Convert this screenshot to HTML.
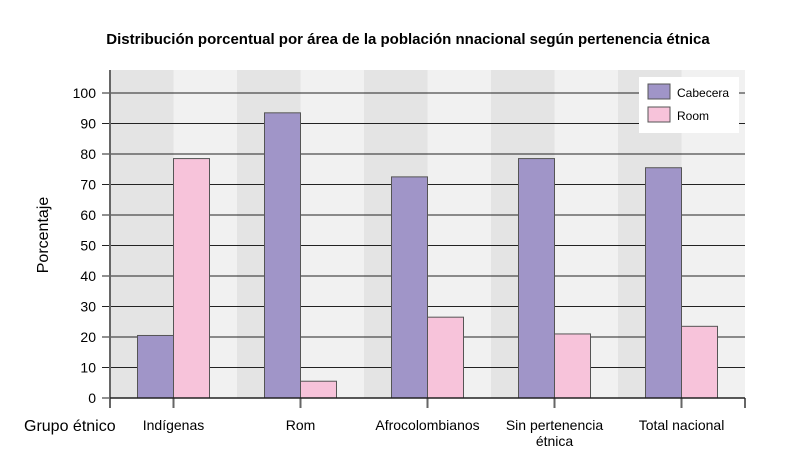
<!DOCTYPE html>
<html><head><meta charset="utf-8"><style>
body{margin:0;background:#fff;font-family:"Liberation Sans",Arial,sans-serif;}
svg text{font-family:"Liberation Sans",Arial,sans-serif;fill:#000;}
</style></head><body>
<svg id="c" width="800" height="460" xmlns="http://www.w3.org/2000/svg">
<text x="408" y="44" font-size="15" font-weight="bold" text-anchor="middle">Distribución porcentual por área de la población nnacional según pertenencia étnica</text>
<g id="bands"></g><g id="grid"></g><g id="bars"></g><g id="axes"></g>
<text transform="translate(48,235) rotate(-90)" font-size="16" text-anchor="middle">Porcentaje</text>
<text x="24" y="431" font-size="16">Grupo étnico</text>
<g>
<rect x="639" y="77" width="100" height="56" fill="#fff"/>
<rect x="648" y="84" width="22" height="15" fill="#a095c8" stroke="#555"/>
<text x="677" y="97" font-size="12">Cabecera</text>
<rect x="648" y="107" width="22" height="15" fill="#f7c3da" stroke="#555"/>
<text x="677" y="120" font-size="12">Room</text>
</g>
</svg>
<script>
const categories=["Indígenas","Rom","Afrocolombianos","Sin pertenencia|étnica","Total nacional"];
const cabecera=[20.5,93.5,72.5,78.5,75.5];
const room=[78.5,5.5,26.5,21,23.5];
const yTicks=[0,10,20,30,40,50,60,70,80,90,100];
const NS="http://www.w3.org/2000/svg";
const L=110,R=745,T=70,B=398;
const catW=(R-L)/categories.length;
const y=v=>B-v*3.05;
const xc=i=>L+catW*(i+0.5);
function mk(p,t,a){const e=document.createElementNS(NS,t);for(const k in a)e.setAttribute(k,a[k]);document.getElementById(p).appendChild(e);return e;}
for(let i=0;i<categories.length*2;i++){
 const r=mk('bands','rect',{x:L+i*catW/2,y:T,width:catW/2,height:B-T,fill:i%2?'#f1f1f1':'#e4e4e4'});
 
 
}
yTicks.forEach(v=>{
 const l=mk('grid','line',{x1:L-8,x2:R,y1:y(v),y2:y(v),stroke:'#222','stroke-width':1});
 
 
 const t=mk('axes','text',{x:L-14,y:y(v)+5,'font-size':14,'text-anchor':'end'});
 t.textContent=v;
 
 
});
const bw=36;
categories.forEach((c,i)=>{
 const a=mk('bars','rect',{x:xc(i)-bw,y:y(cabecera[i]),width:bw,height:B-y(cabecera[i]),fill:'#a095c8',stroke:'#555'});
 
 
 const b=mk('bars','rect',{x:xc(i),y:y(room[i]),width:bw,height:B-y(room[i]),fill:'#f7c3da',stroke:'#555'});
 
 
 const tk=mk('axes','line',{x1:xc(i),x2:xc(i),y1:B,y2:B+10,stroke:'#666','stroke-width':2});
 
 
 c.split('|').forEach((s,j)=>{
  const t=mk('axes','text',{x:xc(i),y:430+j*16,'font-size':14,'text-anchor':'middle'});
  t.textContent=s;
  
  
 });
});
[L,R].forEach(xx=>{const t=mk('axes','line',{x1:xx,x2:xx,y1:B,y2:B+10,stroke:'#666','stroke-width':2});
 
 });
const ya=mk('axes','line',{x1:L,x2:L,y1:T,y2:B,stroke:'#666','stroke-width':2});


const xa=mk('axes','line',{x1:L,x2:R,y1:B,y2:B,stroke:'#222','stroke-width':1.5});


</script>
</body></html>
